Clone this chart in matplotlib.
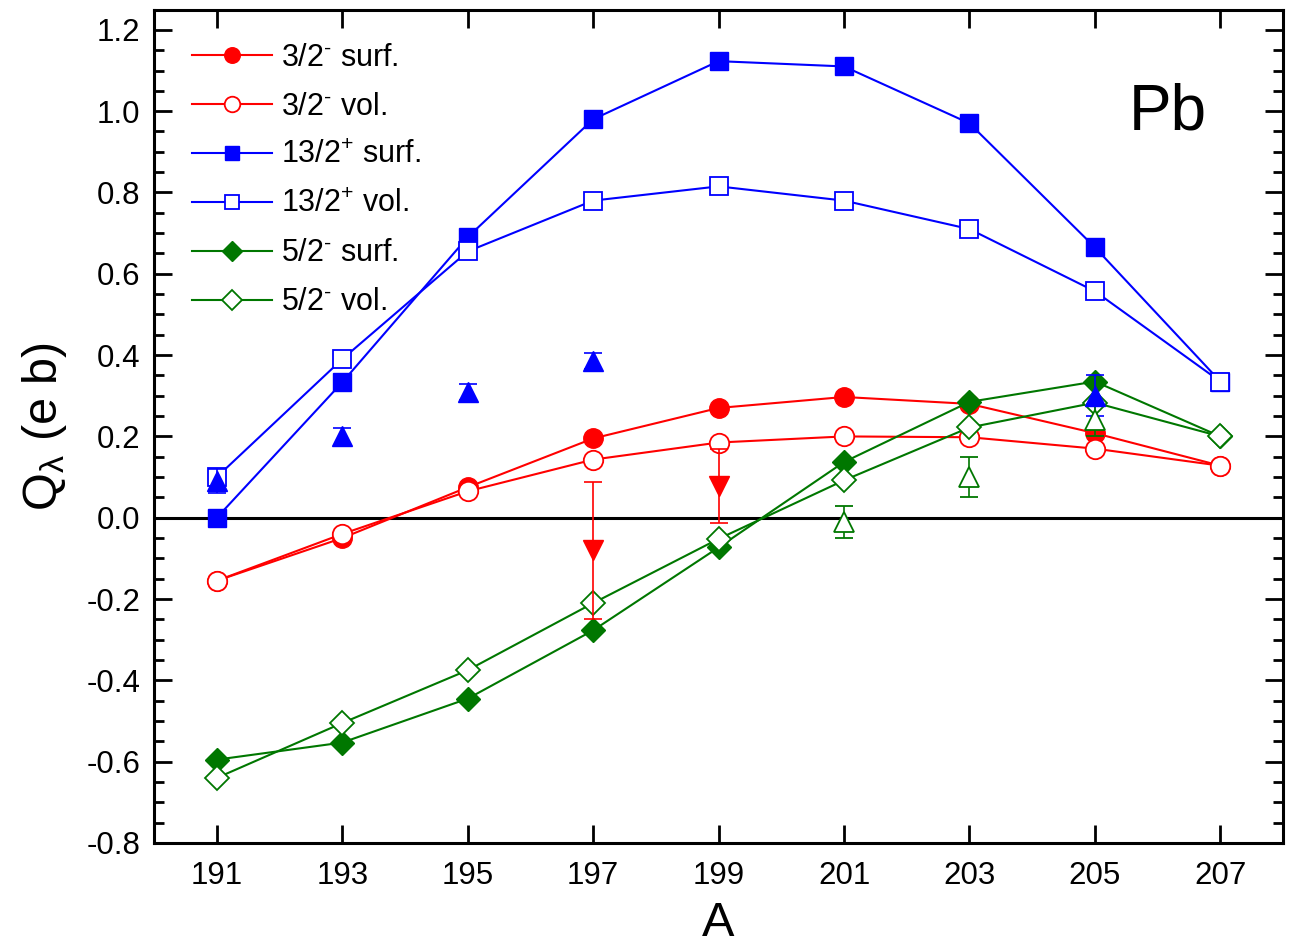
import matplotlib
matplotlib.use("Agg")
import matplotlib.pyplot as plt
from matplotlib.ticker import MultipleLocator

plt.rcParams['font.family'] = ['Liberation Sans', 'DejaVu Sans']
plt.rcParams['mathtext.fontset'] = 'custom'
plt.rcParams['mathtext.rm'] = 'Liberation Sans'
plt.rcParams['mathtext.it'] = 'Liberation Sans'
plt.rcParams['mathtext.default'] = 'regular'

# mass numbers
A = [191, 193, 195, 197, 199, 201, 203, 205, 207]

# calculated quadrupole moments (e b)
q32_surf = [-0.155, -0.05, 0.075, 0.195, 0.27, 0.297, 0.28, 0.208, 0.128]
q32_vol = [-0.155, -0.04, 0.065, 0.143, 0.185, 0.20, 0.198, 0.17, 0.128]
q132_surf = [0.0, 0.333, 0.69, 0.98, 1.123, 1.11, 0.97, 0.665, 0.335]
q132_vol = [0.10, 0.39, 0.655, 0.78, 0.815, 0.78, 0.71, 0.557, 0.335]
q52_surf = [-0.595, -0.553, -0.445, -0.277, -0.073, 0.137, 0.285, 0.335, 0.20]
q52_vol = [-0.64, -0.505, -0.375, -0.21, -0.052, 0.092, 0.222, 0.283, 0.20]

# experimental values
exp132_A = [191, 193, 195, 197, 205]
exp132_q = [0.09, 0.2, 0.31, 0.385, 0.30]
exp132_err = [0.03, 0.02, 0.02, 0.02, 0.05]

exp32_A = [197, 199]
exp32_q = [-0.08, 0.078]
exp32_err = [0.168, 0.09]

exp52_A = [201, 203, 205]
exp52_q = [-0.01, 0.10, 0.24]
exp52_err = [0.04, 0.05, 0.04]

green = '#007700'
hy = '\u2010'

fig = plt.figure(figsize=(13, 9.52), dpi=100)
ax = fig.add_axes([0.1185, 0.1145, 0.8685, 0.8755])

ax.axhline(0, color='black', lw=2.2, zorder=1)

lw = 1.5
ax.plot(A, q32_surf, '-o', color='red', ms=14, lw=lw, label=f'3/2$^{{{hy}}}$ surf.', zorder=3)
ax.plot(A, q32_vol, '-o', color='red', mfc='white', mew=1.3, ms=14, lw=lw, label=f'3/2$^{{{hy}}}$ vol.', zorder=3)
ax.plot(A, q132_surf, '-s', color='blue', ms=13, lw=lw, label='13/2$^{+}$ surf.', zorder=3)
ax.plot(A, q132_vol, '-s', color='blue', mfc='white', mew=1.3, ms=13, lw=lw, label='13/2$^{+}$ vol.', zorder=3)
ax.plot(A, q52_surf, '-D', color=green, ms=12.5, lw=lw, label=f'5/2$^{{{hy}}}$ surf.', zorder=3)
ax.plot(A, q52_vol, '-D', color=green, mfc='white', mew=1.3, ms=12.5, lw=lw, label=f'5/2$^{{{hy}}}$ vol.', zorder=3)

ax.errorbar(exp32_A, exp32_q, yerr=exp32_err, fmt='v', color='red', ms=14.5,
            elinewidth=1.2, capsize=6.5, capthick=1.2, zorder=4)
ax.errorbar(exp132_A, exp132_q, yerr=exp132_err, fmt='^', color='blue', ms=14.5,
            elinewidth=1.2, capsize=6.5, capthick=1.2, zorder=4)
ax.errorbar(exp52_A, exp52_q, yerr=exp52_err, fmt='^', color=green, mfc='white',
            mew=1.3, ms=14.5, elinewidth=1.2, capsize=6.5, capthick=1.2, zorder=4)

ax.set_xlim(190, 208)
ax.set_ylim(-0.8, 1.25)
ax.set_xticks(A)
ax.yaxis.set_major_locator(MultipleLocator(0.2))
ax.yaxis.set_minor_locator(MultipleLocator(0.05))
ax.set_yticklabels([f"{v:.1f}" for v in ax.get_yticks()])
ax.tick_params(which='both', direction='in', top=True, right=True, width=2, labelsize=22.5)
ax.tick_params(which='major', length=13)
ax.tick_params(axis='y', which='major', pad=10)
ax.tick_params(axis='x', which='major', pad=13)
ax.tick_params(which='minor', length=7)
ax.tick_params(axis='x', which='minor', bottom=False, top=False)
for s in ax.spines.values():
    s.set_linewidth(2.2)

ax.set_xlabel('A', fontsize=35, labelpad=7)
ax.set_ylabel('Q$_{λ}$ (e b)', fontsize=35, labelpad=12)

ax.text(0.898, 0.877, 'Pb', transform=ax.transAxes, fontsize=46, ha='center', va='center')

leg = ax.legend(loc='upper left', bbox_to_anchor=(0.015, 0.986), frameon=False, fontsize=22,
                handlelength=2.6, handletextpad=0.3, labelspacing=0.62, markerscale=0.8,
                borderaxespad=0.3)

fig.savefig('out.png', dpi=100)
